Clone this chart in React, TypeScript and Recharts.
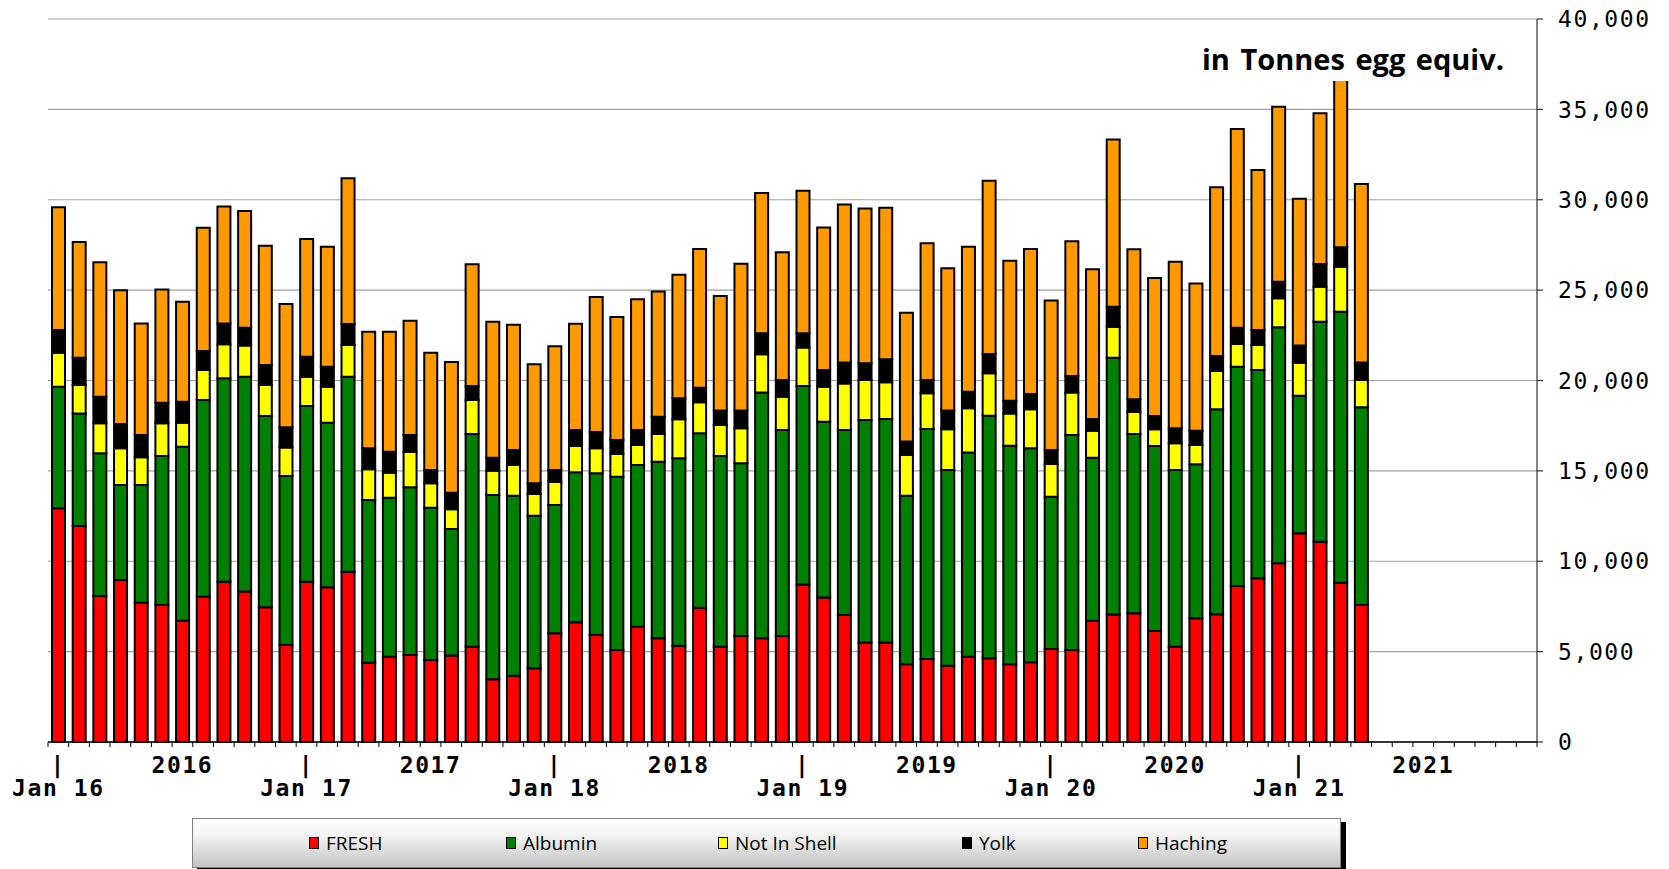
import { BarChart, Bar, XAxis, YAxis, CartesianGrid } from 'recharts';

const monthNames = ['Jan', 'Feb', 'Mar', 'Apr', 'May', 'Jun', 'Jul', 'Aug', 'Sep', 'Oct', 'Nov', 'Dec'];
const yearSuffixes = ['16', '17', '18', '19', '20', '21'];
const months = yearSuffixes.flatMap((yy) => monthNames.map((m) => `${m} ${yy}`));

// tonnes egg equivalent, Jan 16 .. Apr 21
const fresh = [
  12930, 11950, 8080, 8960, 7710, 7580, 6710, 8040, 8870, 8320, 7450, 5370,
  8870, 8560, 9420, 4390, 4720, 4810, 4540, 4780, 5270, 3470, 3670, 4080,
  6010, 6620, 5920, 5090, 6380, 5740, 5330, 7430, 5270, 5860, 5740, 5860,
  8720, 8000, 7030, 5510, 5510, 4300, 4590, 4220, 4720, 4630, 4300, 4410,
  5150, 5090, 6690, 7060, 7120, 6140, 5270, 6840, 7070, 8630, 9060, 9890,
  11550, 11080, 8810, 7580,
];
const albumin = [
  6730, 6230, 7890, 5260, 6510, 8240, 9630, 10880, 11250, 11890, 10590, 9350,
  9720, 9100, 10790, 9000, 8800, 9280, 8420, 7000, 11770, 10200, 9960, 8440,
  7100, 8300, 8950, 9590, 8950, 9770, 10370, 9650, 10550, 9560, 13590, 11400,
  10980, 9720, 10230, 12300, 12360, 9330, 12730, 10830, 11290, 13420, 12090, 11840,
  8420, 11890, 9040, 14200, 9920, 10240, 9780, 8520, 11340, 12130, 11520, 13050,
  7610, 12170, 15000, 10940,
];
const notInShell = [
  1880, 1570, 1660, 2030, 1530, 1810, 1320, 1660, 1880, 1720, 1710, 1580,
  1620, 2000, 1750, 1700, 1380, 1970, 1350, 1090, 1880, 1340, 1700, 1200,
  1290, 1470, 1380, 1270, 1100, 1530, 2150, 1710, 1720, 1940, 2120, 1840,
  2120, 1940, 2580, 2220, 2030, 2250, 1970, 2250, 2450, 2350, 1790, 2160,
  1810, 2350, 1490, 1720, 1230, 920, 1480, 1070, 2120, 1260, 1380, 1610,
  1820, 1940, 2490, 1510,
];
const yolk = [
  1250, 1510, 1470, 1340, 1230, 1140, 1170, 1050, 1160, 990, 1110, 1110,
  1110, 1100, 1170, 1160, 1160, 920, 740, 920, 780, 720, 820, 590,
  650, 870, 900, 760, 830, 960, 1170, 810, 800, 980, 1160, 930,
  790, 920, 1150, 920, 1270, 740, 740, 1040, 920, 1070, 700, 840,
  770, 920, 650, 1100, 690, 740, 830, 790, 830, 900, 830, 920,
  950, 1260, 1070, 970,
];
const haching = [
  6790, 6400, 7440, 7410, 6180, 6270, 5530, 6820, 6460, 6460, 6600, 6820,
  6510, 6640, 8060, 6450, 6640, 6330, 6490, 7230, 6730, 7520, 6940, 6590,
  6840, 5880, 7470, 6800, 7230, 6920, 6830, 7680, 6340, 8120, 7760, 7060,
  7890, 7880, 8750, 8570, 8390, 7130, 7560, 7870, 8020, 9580, 7750, 8030,
  8270, 7450, 8280, 9260, 8300, 7630, 9210, 8140, 9330, 10990, 8860, 9680,
  8130, 8330, 10230, 9870,
];

const yTicks = [0, 5000, 10000, 15000, 20000, 25000, 30000, 35000, 40000];

const series = [
  { key: 'fresh', name: 'FRESH', color: '#FF0000', values: fresh },
  { key: 'albumin', name: 'Albumin', color: '#008000', values: albumin },
  { key: 'notInShell', name: 'Not In Shell', color: '#FFFF00', values: notInShell },
  { key: 'yolk', name: 'Yolk', color: '#000000', values: yolk },
  { key: 'haching', name: 'Haching', color: '#FF9900', values: haching },
];

const data = months.map((month, i) => {
  const row: Record<string, string | number | undefined> = { month };
  series.forEach((s) => {
    row[s.key] = s.values[i];
  });
  return row;
});

const WIDTH = 1669;
const HEIGHT = 869;
const PLOT_LEFT = 48;
const PLOT_RIGHT = 1537;
const STEP = (PLOT_RIGHT - PLOT_LEFT) / months.length;

const monoFont = '"DejaVu Sans Mono", monospace';

function MonthTick(props: any) {
  const { x, y, payload, index } = props;
  const [mon, yy] = String(payload.value).split(' ');
  const textProps = {
    textAnchor: 'middle' as const,
    fontFamily: monoFont,
    fontWeight: 700,
    fontSize: 23,
    letterSpacing: 1.6,
    fill: '#000',
  };
  return (
    <g>
      <line x1={x - STEP / 2} y1={y} x2={x - STEP / 2} y2={y + 5} stroke="#000" strokeWidth={1} />
      {index === months.length - 1 && (
        <line x1={x + STEP / 2} y1={y} x2={x + STEP / 2} y2={y + 5} stroke="#000" strokeWidth={1} />
      )}
      {mon === 'Jan' && (
        <>
          <text x={x} y={y + 31} {...textProps}>|</text>
          <text x={x} y={y + 54} {...textProps}>{`Jan ${yy}`}</text>
        </>
      )}
      {mon === 'Jul' && (
        <text x={x} y={y + 31} {...textProps}>{`20${yy}`}</text>
      )}
    </g>
  );
}

function LegendBox() {
  // item offsets inside the legend frame
  const slots = [116, 313, 525, 769, 945];
  return (
    <div
      style={{
        position: 'absolute',
        left: 192,
        top: 818,
        width: 1147,
        height: 48,
        border: '1px solid #7f7f7f',
        background: 'linear-gradient(to bottom, #ffffff 0%, #f2f2f2 35%, #c4c4c4 100%)',
        boxShadow: '5px 4px 0 #000',
        fontFamily: '"Open Sans", sans-serif',
        fontSize: 19,
        color: '#000',
      }}
    >
      {series.map((s, i) => (
        <div
          key={s.key}
          style={{
            position: 'absolute',
            left: slots[i],
            top: 0,
            height: 48,
            display: 'flex',
            alignItems: 'center',
            whiteSpace: 'nowrap',
          }}
        >
          <span
            style={{
              display: 'inline-block',
              width: 8,
              height: 10,
              background: s.color,
              border: '1.5px solid #000',
              marginRight: 7,
            }}
          />
          <span>{s.name}</span>
        </div>
      ))}
    </div>
  );
}

export default function App() {
  return (
    <div style={{ position: 'absolute', left: 0, top: 0, width: WIDTH, height: HEIGHT, background: '#fff' }}>
      <BarChart
        width={WIDTH}
        height={HEIGHT}
        data={data}
        margin={{ top: 19, right: 0, left: PLOT_LEFT, bottom: 57 }}
        barSize={13}
      >
        <CartesianGrid vertical={false} stroke="#a0a0a0" strokeWidth={1.2} />
        <XAxis
          dataKey="month"
          interval={0}
          height={70}
          tickSize={0}
          tickMargin={0}
          tickLine={false}
          axisLine={{ stroke: '#000', strokeWidth: 1.5 }}
          tick={<MonthTick />}
        />
        <YAxis
          orientation="right"
          width={WIDTH - PLOT_RIGHT}
          domain={[0, 40000]}
          ticks={yTicks}
          interval={0}
          tickSize={6}
          tickMargin={15}
          axisLine={{ stroke: '#333', strokeWidth: 1.2 }}
          tickLine={{ stroke: '#333', strokeWidth: 1.2 }}
          tickFormatter={(v: number) => v.toLocaleString('en-US')}
          tick={{ fontFamily: monoFont, fontSize: 23, letterSpacing: 1.6, fill: '#000', textAnchor: 'start' }}
        />
        {series.map((s) => (
          <Bar
            key={s.key}
            dataKey={s.key}
            name={s.name}
            stackId="eggs"
            fill={s.color}
            stroke="#000"
            strokeWidth={2}
            isAnimationActive={false}
          />
        ))}
      </BarChart>
      <div
        style={{
          position: 'absolute',
          left: 1190,
          top: 36,
          width: 330,
          height: 45,
          background: '#fff',
        }}
      >
        <div
          style={{
            marginTop: 8,
            paddingLeft: 12,
            fontFamily: '"Open Sans", sans-serif',
            fontWeight: 700,
            fontSize: 29,
            lineHeight: '29px',
            wordSpacing: 3,
            whiteSpace: 'nowrap',
            color: '#000',
          }}
        >
          in Tonnes egg equiv.
        </div>
      </div>
      <LegendBox />
    </div>
  );
}
